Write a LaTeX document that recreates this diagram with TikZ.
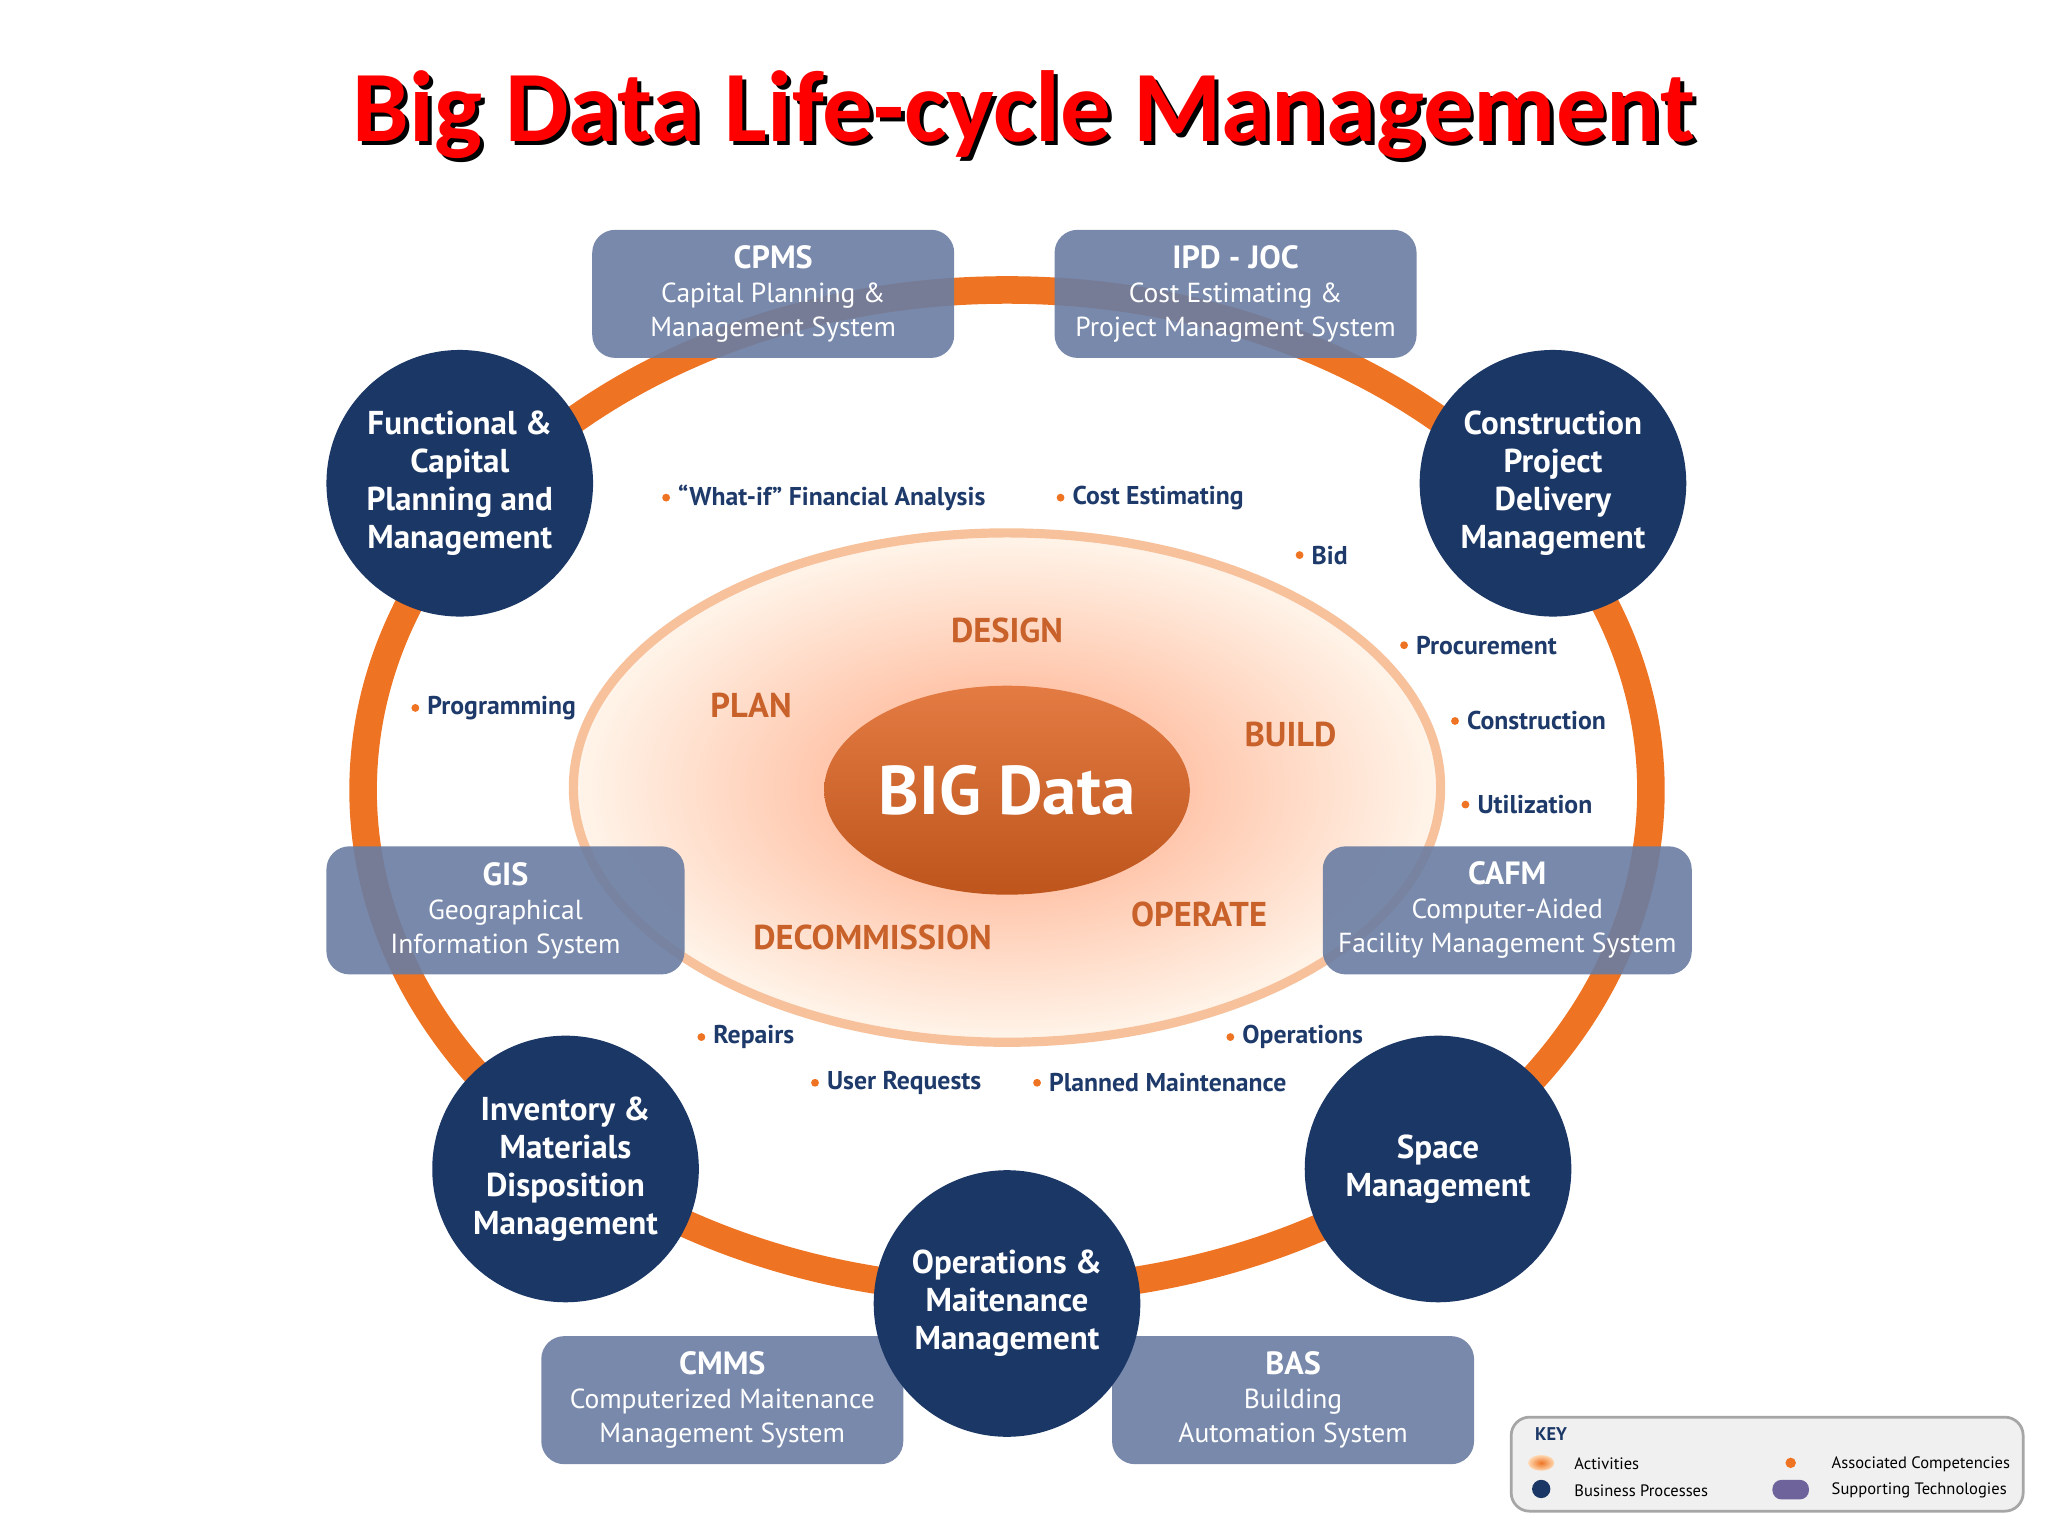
\documentclass[tikz,border=0pt]{standalone}
\usepackage{fontspec}
\setmainfont{PT Sans}
\newfontfamily\titlefont{Carlito}
\usetikzlibrary{shadings}
\definecolor{navy}{HTML}{1B3766}
\definecolor{slate}{HTML}{6A7DA2}
\definecolor{ring}{HTML}{EE7423}
\definecolor{act}{HTML}{C8612A}
\definecolor{lab}{HTML}{1E3A6A}
\definecolor{bigc}{HTML}{DE6422}
\begin{document}
\begin{tikzpicture}[x=0.01cm,y=-0.01cm,
  proc/.style={circle,fill=navy,minimum size=2.04cm,inner sep=0,text=white,font=\bfseries\fontsize{7.2}{8.3}\selectfont,align=center},
  tech/.style={rounded corners=5pt,fill=slate,fill opacity=0.9,text opacity=1,minimum width=2.77cm,minimum height=0.98cm,text=white,font=\fontsize{6}{7.4}\selectfont,align=center},
  comp/.style={text=lab,font=\bfseries\fontsize{5.6}{7}\selectfont,inner sep=1},
  bul/.style={circle,fill=ring,minimum size=0.06cm,inner sep=0},
  actw/.style={text=act,font=\bfseries\fontsize{7.5}{9}\selectfont}]
\useasboundingbox (0,0) rectangle (1568,1176);
\fill[white] (0,0) rectangle (1568,1176);
% title
\node[font=\titlefont\bfseries\fontsize{22}{24}\selectfont,text=black] at (787,91) {Big Data Life-cycle Management};
\node (title) [font=\titlefont\bfseries\fontsize{22}{24}\selectfont,text=red] at (784,88) {Big Data Life-cycle Management};
% ring
\draw[ring,line width=6pt] (771,605) ellipse [x radius=493,y radius=383];
% activities ellipse
\shade[inner color=orange!60!red!50,outer color=orange!8] (771,603) ellipse [x radius=332,y radius=195];
\draw[ring!45,line width=2pt] (771,603) ellipse [x radius=332,y radius=195];
\shade[top color=bigc!85!white,bottom color=bigc!85!black] (771,605) ellipse [x radius=140,y radius=80];
\node (big) [text=white,font=\bfseries\fontsize{15}{18}\selectfont] at (771,605) {BIG Data};
\node (design) [actw] at (771,483) {DESIGN};
\node (plan) [actw] at (575,540) {PLAN};
\node (build) [actw] at (988,562) {BUILD};
\node (operate) [actw] at (918,700) {OPERATE};
\node (decom) [actw] at (668,718) {DECOMMISSION};
% technologies
\node (cpms) [tech] at (592,225) {\textbf{\fontsize{7}{8}\selectfont CPMS}\\Capital Planning \&\\Management System};
\node (ipd) [tech] at (946,225) {\textbf{\fontsize{7}{8}\selectfont IPD - JOC}\\Cost Estimating \&\\Project Managment System};
\node (gis) [tech,minimum width=2.74cm] at (387,697) {\textbf{\fontsize{7}{8}\selectfont GIS}\\Geographical\\Information System};
\node (cafm) [tech] at (1154,697) {\textbf{\fontsize{7}{8}\selectfont CAFM}\\Computer-Aided\\Facility Management System};
\node (cmms) [tech] at (553,1072) {\textbf{\fontsize{7}{8}\selectfont CMMS}\\Computerized Maitenance\\Management System};
\node (bas) [tech] at (990,1072) {\textbf{\fontsize{7}{8}\selectfont BAS}\\Building\\Automation System};
% processes
\node (func) [proc] at (352,370) {Functional \&\\Capital\\Planning and\\Management};
\node (cons) [proc] at (1189,370) {Construction\\Project\\Delivery\\Management};
\node (inv) [proc] at (433,895) {Inventory \&\\Materials\\Disposition\\Management};
\node (space) [proc] at (1101,895) {Space\\Management};
\node (ops) [proc] at (771,998) {Operations \&\\Maitenance\\Management};
% competencies
\foreach \n/\x/\y/\t in {c1/510/381/{``What-if'' Financial Analysis},c2/812/381/{Cost Estimating},c3/995/425/{Bid},c4/1075/494/{Procurement},c5/1114/552/{Construction},c6/1122/616/{Utilization},c7/318/542/{Programming},c8/537/794/{Repairs},c9/624/829/{User Requests},c10/794/829/{Planned Maintenance},c11/942/794/{Operations}}{
  \node (\n) [comp,anchor=west] at (\x+5,\y) {\t};
  \node (\n b) [bul] at (\x,\y) {};
}
% key
\draw[gray!70,fill=gray!12,rounded corners=4pt,line width=0.6pt] (1157,1085) rectangle (1549,1157);
\node (key) [text=navy,font=\bfseries\fontsize{4}{5}\selectfont,anchor=west] at (1163,1098) {KEY};
\shade[inner color=ring,outer color=orange!30] (1180,1120) ellipse [x radius=10,y radius=6];
\node (ka) [font=\fontsize{3.6}{5}\selectfont,anchor=west] at (1193,1121) {Activities};
\fill[navy] (1180,1140) circle (7);
\node (kb) [font=\fontsize{3.6}{5}\selectfont,anchor=west] at (1193,1141) {Business Processes};
\fill[ring] (1371,1120) circle (4);
\node (kc) [font=\fontsize{3.6}{5}\selectfont,anchor=west] at (1390,1121) {Associated Competencies};
\fill[slate!80!violet,rounded corners=2pt] (1357,1133) rectangle (1385,1148);
\node (kd) [font=\fontsize{3.6}{5}\selectfont,anchor=west] at (1390,1141) {Supporting Technologies};
\end{tikzpicture}
\end{document}
